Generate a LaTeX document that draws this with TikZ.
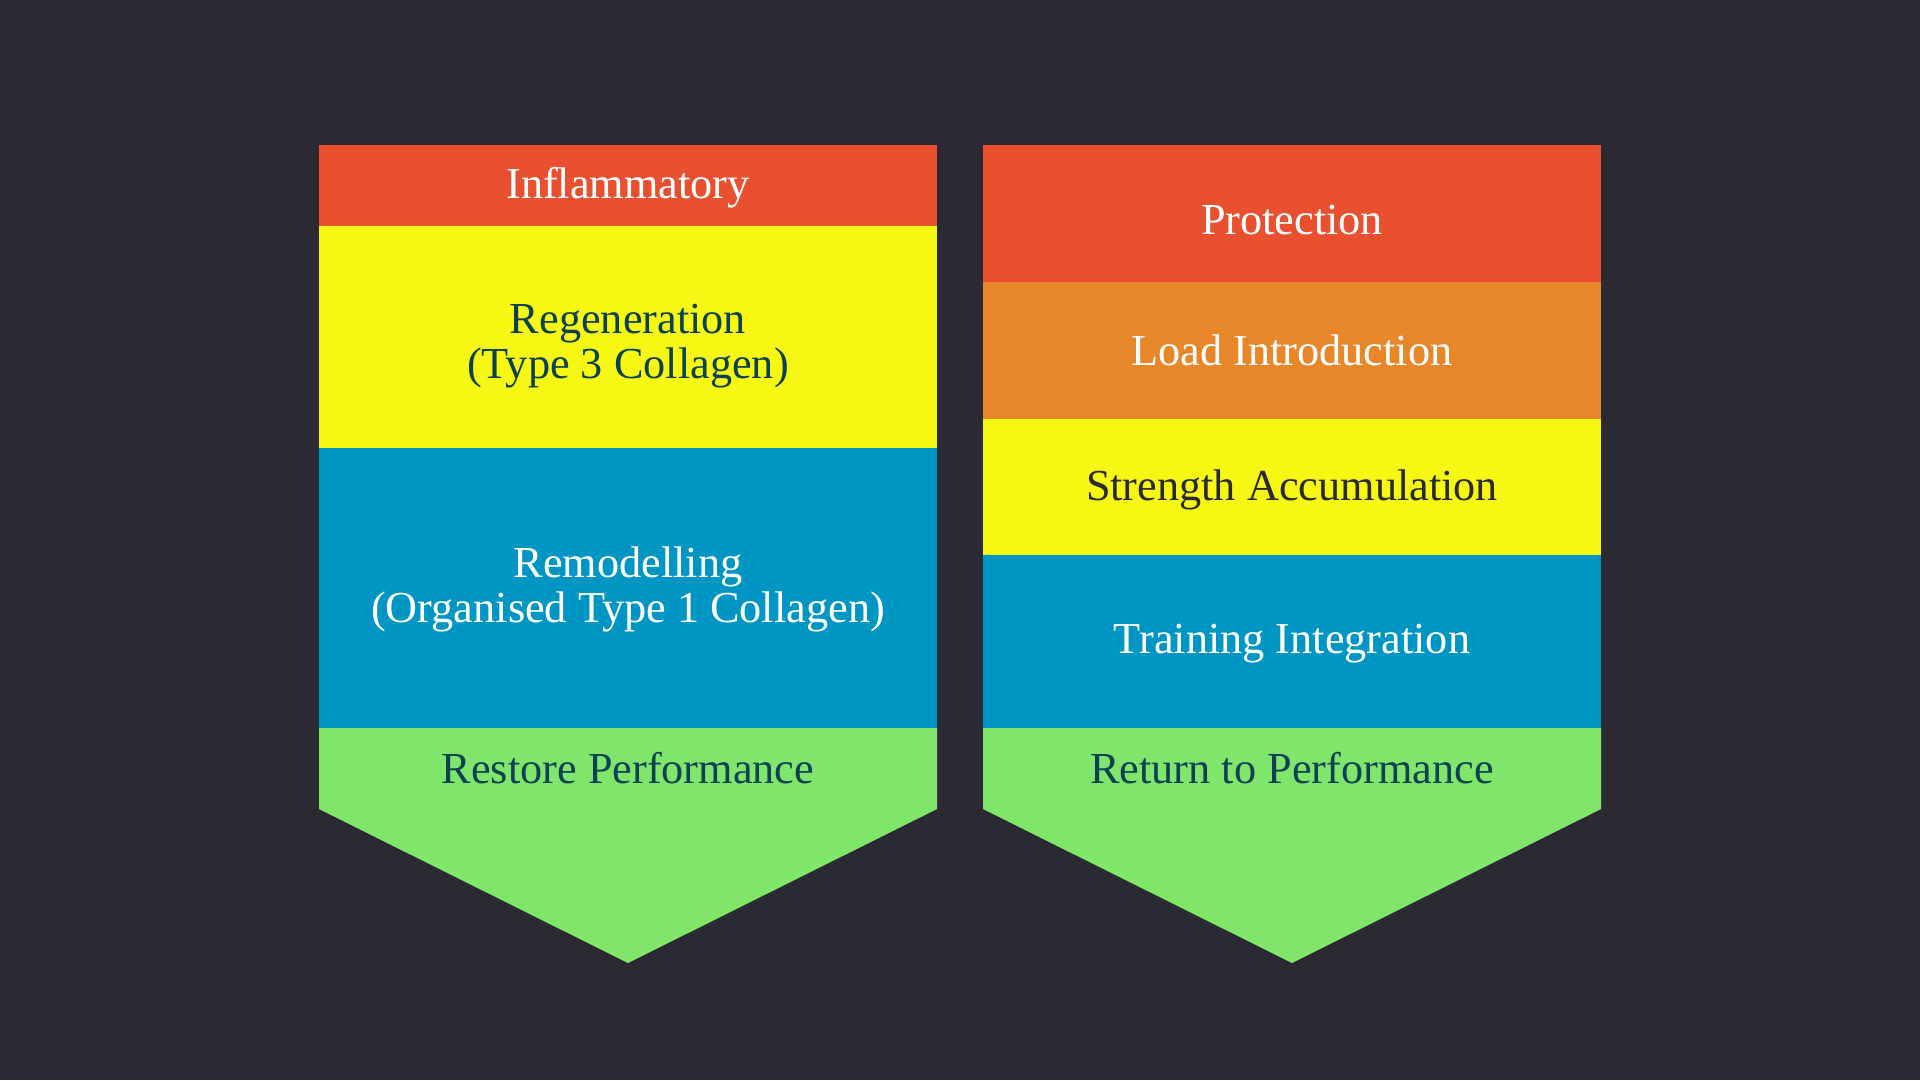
\documentclass[tikz,border=0pt]{standalone}
\usepackage{fontspec}
\setmainfont{Liberation Serif}
\definecolor{bg}{HTML}{2B2A33}
\definecolor{cred}{HTML}{E8502F}
\definecolor{corange}{HTML}{E8872A}
\definecolor{cyellow}{HTML}{F7F714}
\definecolor{cblue}{HTML}{0096C4}
\definecolor{cgreen}{HTML}{80E56B}
\definecolor{cteal}{HTML}{0B4152}
\definecolor{cdark}{HTML}{2B2A33}
\begin{document}
\begin{tikzpicture}[x=0.1mm,y=-0.1mm,
  band/.style={rectangle, inner sep=0pt, outer sep=0pt, minimum width=61.8mm},
  label/.style={inner sep=0pt, align=center, font=\fontsize{12.6pt}{12.8pt}\selectfont}]
\fill[bg] (0,0) rectangle (1920,1080);
\useasboundingbox (0,0) rectangle (1920,1080);
% left column
\node[band, fill=cred, minimum height=8.1mm] (inf) at (628,185.5) {};
\node[label, text=white] (infT) at (628,188) {Inflammatory};
\node[band, fill=cyellow, minimum height=22.2mm] (reg) at (628,337) {};
\node[label, text=cteal] (regT) at (628,346) {Regeneration\\(Type 3 Collagen)};
\node[band, fill=cblue, minimum height=28mm] (rem) at (628,588) {};
\node[label, text=white] (remT) at (628,589) {Remodelling\\(Organised Type 1 Collagen)};
\fill[cgreen] (319,728) coordinate (lgA) -- (937,728) -- (937,809) -- (628,963) coordinate (ltip) -- (319,809) -- cycle;
\node[label, text=cteal] (res) at (628,768) {Restore Performance};
% right column
\node[band, fill=cred, minimum height=13.7mm] (pro) at (1292,213.5) {};
\node[label, text=white] (proT) at (1292,220) {Protection};
\node[band, fill=corange, minimum height=13.7mm] (load) at (1292,350.5) {};
\node[label, text=white] (loadT) at (1292,350) {Load Introduction};
\node[band, fill=cyellow, minimum height=13.6mm] (str) at (1292,487) {};
\node[label, text=cdark] (strT) at (1292,490) {Strength Accumulation};
\node[band, fill=cblue, minimum height=17.3mm] (tra) at (1292,641.5) {};
\node[label, text=white] (traT) at (1292,644) {Training Integration};
\fill[cgreen] (983,728) coordinate (rgA) -- (1601,728) -- (1601,809) -- (1292,963) coordinate (rtip) -- (983,809) -- cycle;
\node[label, text=cteal] (ret) at (1292,768) {Return to Performance};
\end{tikzpicture}
\end{document}
